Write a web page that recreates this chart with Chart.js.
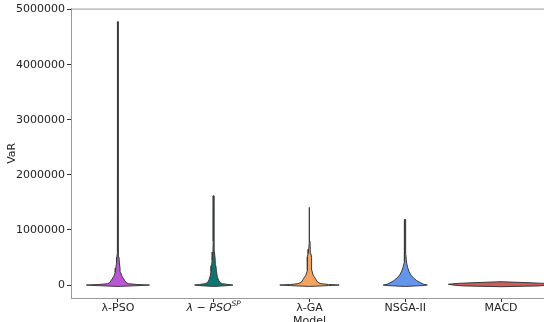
<!DOCTYPE html>
<html>
<head>
<meta charset="utf-8">
<script src="https://cdn.jsdelivr.net/npm/chart.js@4.4.1/dist/chart.umd.min.js"></script>
<style>
  html, body { margin: 0; padding: 0; background: #fff; overflow: hidden; }
  #wrap { width: 544px; height: 322px; overflow: hidden; position: relative; }
  #box { width: 548px; height: 328px; position: absolute; left: 0; top: 0; }
</style>
</head>
<body>
<div id="wrap"><div id="box"><canvas id="c"></canvas></div></div>
<script>
// Categories and tick labels
const models = ['λ-PSO', 'λ − PSO^SP', 'λ-GA', 'NSGA-II', 'MACD'];
const yTickValues = [0, 1000000, 2000000, 3000000, 4000000, 5000000];
const colors = ['#BA55D3', '#0F7570', '#F4A460', '#6495ED', '#CD5C5C'];

// Violin profiles: VaR level and half-width of the density (category units)
const psoLevels  = [-25000, -10000, 0, 10000, 25000, 45000, 72000, 110000, 162000, 230000, 307000, 400000, 505000, 600000, 800000, 4780000];
const psoWidths  = [0, 0.22, 0.33, 0.20, 0.11, 0.085, 0.075, 0.06, 0.042, 0.028, 0.022, 0.015, 0.011, 0.006, 0.004, 0.004];

const spLevels   = [-25000, -10000, 0, 10000, 25000, 45000, 90000, 150000, 250000, 350000, 450000, 600000, 800000, 1620000];
const spWidths   = [0, 0.15, 0.20, 0.15, 0.09, 0.065, 0.05, 0.038, 0.028, 0.023, 0.016, 0.008, 0.005, 0.004];

const gaLevels   = [-25000, -10000, 0, 10000, 25000, 50000, 108000, 180000, 270000, 360000, 430000, 505000, 570000, 650000, 800000, 1410000];
const gaWidths   = [0, 0.20, 0.31, 0.20, 0.12, 0.085, 0.065, 0.038, 0.024, 0.02, 0.022, 0.024, 0.015, 0.008, 0.005, 0.004];

const nsLevels   = [-25000, -10000, 0, 15000, 40000, 80000, 130000, 180000, 240000, 320000, 420000, 550000, 1190000];
const nsWidths   = [0, 0.18, 0.23, 0.19, 0.16, 0.12, 0.085, 0.06, 0.04, 0.024, 0.012, 0.006, 0.004];

const macdLevels = [-30000, -15000, 0, 15000, 30000, 45000, 60000];
const macdWidths = [0, 0.40, 0.50, 0.55, 0.45, 0.25, 0];

const profiles = [
  [psoLevels, psoWidths],
  [spLevels, spWidths],
  [gaLevels, gaWidths],
  [nsLevels, nsWidths],
  [macdLevels, macdWidths]
];

function violinPoints(center, levels, widths) {
  const pts = [];
  for (let i = 0; i < levels.length; i++) pts.push({ x: center + widths[i], y: levels[i] });
  for (let i = levels.length - 1; i >= 0; i--) pts.push({ x: center - widths[i], y: levels[i] });
  pts.push({ x: center + widths[0], y: levels[0] });
  return pts;
}

const datasets = profiles.map((p, i) => ({
  label: models[i],
  data: violinPoints(i, p[0], p[1]),
  showLine: true,
  fill: 'shape',
  backgroundColor: colors[i],
  borderColor: '#3a3a3a',
  borderWidth: 1,
  pointRadius: 0,
  tension: 0
}));

const TICK_FONT = '11px "DejaVu Sans"';

// draws the top spine and the math-styled tick label (λ − PSO with superscript SP)
const extras = {
  id: 'extras',
  afterDraw(chart) {
    const { ctx, chartArea } = chart;
    ctx.save();
    ctx.strokeStyle = '#999999';
    ctx.lineWidth = 1;
    ctx.beginPath();
    ctx.moveTo(chartArea.left, chartArea.top + 0.5);
    ctx.lineTo(chartArea.right, chartArea.top + 0.5);
    ctx.stroke();

    const xs = chart.scales.x;
    const cx = xs.getPixelForValue(1);
    const y = chartArea.bottom + 4 + 1;
    const parts = [
      { t: 'λ', f: 'italic 11px "DejaVu Sans"', dy: 0 },
      { t: ' − ', f: '11px "DejaVu Sans"', dy: 0 },
      { t: 'PSO', f: 'italic 11px "DejaVu Sans"', dy: 0 },
      { t: 'SP', f: 'italic 7.5px "DejaVu Sans"', dy: -3 }
    ];
    let total = 0;
    parts.forEach(p => { ctx.font = p.f; p.w = ctx.measureText(p.t).width; total += p.w; });
    let x = cx - total / 2;
    ctx.fillStyle = '#222';
    ctx.textBaseline = 'top';
    ctx.textAlign = 'left';
    parts.forEach(p => { ctx.font = p.f; ctx.fillText(p.t, x, y + p.dy); x += p.w; });
    ctx.restore();
  }
};

new Chart(document.getElementById('c'), {
  type: 'scatter',
  data: { datasets },
  options: {
    responsive: true,
    maintainAspectRatio: false,
    animation: false,
    layout: { padding: { top: 7, right: 0, left: 0, bottom: 0 } },
    plugins: { legend: { display: false }, tooltip: { enabled: false } },
    scales: {
      x: {
        type: 'linear',
        min: -0.49,
        max: 4.49,
        afterBuildTicks(scale) { scale.ticks = models.map((m, i) => ({ value: i })); },
        afterFit(scale) { scale.height = 328 - 298; },
        ticks: {
          callback: (v) => (v === 1 ? '' : models[v]),
          color: '#222',
          padding: 0,
          maxRotation: 0,
          autoSkip: false,
          font: { family: 'DejaVu Sans', size: 11 }
        },
        grid: { drawOnChartArea: false, drawTicks: true, tickLength: 4, color: '#333' },
        border: { display: true, color: '#999999', width: 1 },
        title: {
          display: true, text: 'Model', color: '#222',
          padding: { top: 0, bottom: 0 },
          font: { family: 'DejaVu Sans', size: 11 }
        }
      },
      y: {
        type: 'linear',
        min: -235000,
        max: 5018000,
        afterBuildTicks(scale) { scale.ticks = yTickValues.map(v => ({ value: v })); },
        afterFit(scale) { scale.width = 71; },
        ticks: {
          callback: (v) => String(v),
          color: '#222',
          padding: 2,
          font: { family: 'DejaVu Sans', size: 11 }
        },
        grid: { drawOnChartArea: false, drawTicks: true, tickLength: 4, color: '#333' },
        border: { display: true, color: '#999999', width: 1 },
        title: {
          display: true, text: 'VaR', color: '#222',
          padding: { top: 6, bottom: 0 },
          font: { family: 'DejaVu Sans', size: 11 }
        }
      }
    }
  },
  plugins: [extras]
});
</script>
</body>
</html>
